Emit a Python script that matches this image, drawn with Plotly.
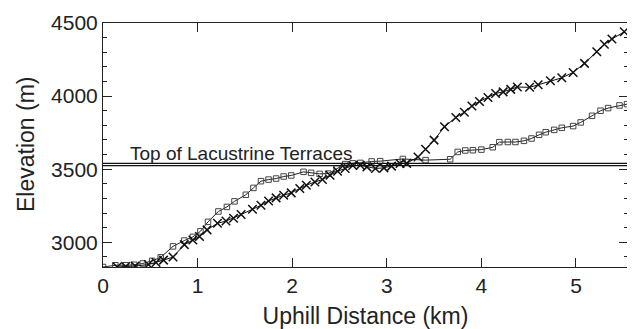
import plotly.graph_objects as go

# Series 1: open squares
sq_km = [0, 0.13, 0.24, 0.33, 0.42, 0.52, 0.61, 0.74, 0.86, 0.95, 1.03, 1.11, 1.22, 1.31,
         1.39, 1.51, 1.59, 1.67, 1.75, 1.83, 1.91, 1.99, 2.12, 2.20, 2.29, 2.38, 2.47, 2.56,
         2.64, 2.72, 2.84, 2.93, 3.17, 3.41, 3.67, 3.75, 3.83, 3.91, 4.00, 4.12, 4.19, 4.28,
         4.36, 4.45, 4.53, 4.61, 4.68, 4.77, 4.85, 4.97, 5.05, 5.17, 5.26, 5.34, 5.46, 5.54]
sq_elev = [2831, 2843, 2843, 2846, 2855, 2873, 2897, 2972, 3012, 3037, 3075, 3140, 3211, 3242,
           3280, 3325, 3372, 3418, 3429, 3436, 3450, 3457, 3482, 3475, 3468, 3470, 3505, 3535,
           3540, 3543, 3553, 3555, 3570, 3562, 3568, 3618, 3628, 3630, 3634, 3650, 3685, 3686,
           3686, 3694, 3710, 3735, 3753, 3769, 3783, 3795, 3820, 3865, 3900, 3918, 3936, 3945]

# Series 2: x markers
x_km = [0.15, 0.24, 0.34, 0.48, 0.56, 0.64, 0.74, 0.86, 0.95, 1.02, 1.10, 1.21, 1.30, 1.38,
        1.46, 1.58, 1.67, 1.75, 1.83, 1.91, 1.99, 2.08, 2.15, 2.24, 2.32, 2.40, 2.48, 2.56,
        2.64, 2.72, 2.79, 2.88, 2.97, 3.05, 3.14, 3.21, 3.33, 3.41, 3.50, 3.61, 3.73, 3.82,
        3.90, 3.98, 4.07, 4.15, 4.23, 4.31, 4.38, 4.51, 4.60, 4.73, 4.85, 4.97, 5.09, 5.22,
        5.30, 5.38, 5.51]
x_elev = [2831, 2834, 2838, 2848, 2862, 2878, 2899, 2984, 3016, 3040, 3085, 3130, 3145, 3165,
          3190, 3226, 3253, 3283, 3304, 3322, 3338, 3368, 3390, 3413, 3429, 3459, 3486, 3505,
          3525, 3527, 3516, 3505, 3509, 3521, 3539, 3540, 3584, 3636, 3699, 3790, 3854, 3890,
          3932, 3963, 3991, 4018, 4029, 4046, 4062, 4060, 4078, 4105, 4125, 4162, 4224, 4303,
          4354, 4390, 4440]

terrace_levels = [3524, 3540]
terrace_label = "Top of Lacustrine Terraces"
x_title = "Uphill Distance (km)"
y_title = "Elevation (m)"
x_ticks = [0, 1, 2, 3, 4, 5]
y_ticks = [3000, 3500, 4000, 4500]

FONT = "Liberation Sans, Arial, sans-serif"
INK = "#222"

fig = go.Figure()
fig.add_trace(go.Scatter(
    x=sq_km, y=sq_elev, mode="lines+markers",
    line=dict(color=INK, width=1),
    marker=dict(symbol="square-open", size=5.5, color="#444", line=dict(width=1)),
    showlegend=False))
fig.add_trace(go.Scatter(
    x=x_km, y=x_elev, mode="lines+markers",
    line=dict(color="#111", width=1),
    marker=dict(symbol="x-thin-open", size=8.5, color="#111", line=dict(width=1.5, color="#111")),
    showlegend=False))

for lv in terrace_levels:
    fig.add_shape(type="line", xref="paper", x0=0, x1=1, yref="y", y0=lv, y1=lv,
                  line=dict(color="#111", width=1.2))

fig.add_annotation(x=0.26, y=terrace_levels[1], xref="x", yref="y", text=terrace_label,
                   showarrow=False, xanchor="left", yanchor="bottom", yshift=-3,
                   font=dict(family=FONT, size=19, color=INK))

# y-axis title placed as rotated text left of the tick labels
fig.add_annotation(x=0, y=0.5, xref="paper", yref="paper", text=y_title, textangle=-90,
                   showarrow=False, xanchor="center", yanchor="middle", xshift=-77,
                   font=dict(family=FONT, size=23, color=INK))

axis_common = dict(showline=True, linecolor=INK, linewidth=1, mirror="ticks",
                   ticks="inside", tickcolor=INK, tickwidth=1, showgrid=False,
                   zeroline=False, automargin=False,
                   tickfont=dict(family=FONT, size=21, color=INK))

fig.update_xaxes(range=[0, 5.55], tickvals=x_ticks, ticklen=9,
                 title=dict(text=x_title, font=dict(family=FONT, size=23, color=INK)),
                 **axis_common)
fig.update_yaxes(range=[2831, 4500], tickvals=y_ticks, ticklen=9,
                 minor=dict(dtick=100, tick0=0, ticks="inside", ticklen=4, tickcolor=INK, showgrid=False),
                 **axis_common)

# right-side mirrored ticks (major + minor)
fig.update_layout(yaxis2=dict(overlaying="y", side="right", matches="y", range=[2831, 4500],
                              tickvals=y_ticks, ticks="inside", ticklen=9, tickcolor=INK,
                              showticklabels=False, showgrid=False, zeroline=False,
                              minor=dict(dtick=100, tick0=0, ticks="inside", ticklen=4,
                                         tickcolor=INK, showgrid=False)))
fig.add_trace(go.Scatter(x=[None], y=[None], yaxis="y2", showlegend=False, hoverinfo="skip"))

# page body has an 8px default margin: size the figure so the plot lands where the reference has it
fig.update_layout(width=627, height=321, margin=dict(l=95, r=7, t=15, b=62),
                  plot_bgcolor="white", paper_bgcolor="white")

fig.write_html("out.html")
